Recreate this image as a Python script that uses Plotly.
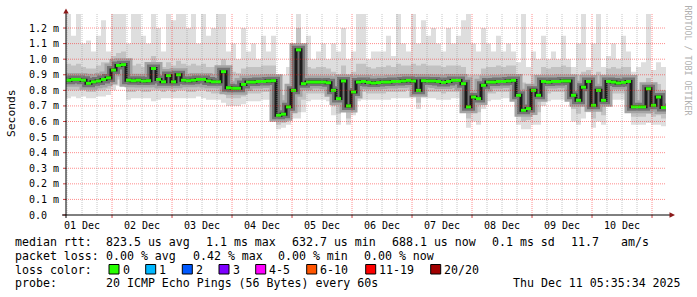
import numpy as np
import pandas as pd
import plotly.graph_objects as go

# ---------------- data (milliseconds, one value per 2-hour step) ----------------
start_time = "2025-12-01 05:35:34"
step_hours = 2

median_ms = [
    0.865, 0.870, 0.870, 0.865, 0.845, 0.855, 0.860, 0.870, 0.880, 0.930,
    0.960, 0.965, 0.865, 0.862, 0.865, 0.860, 0.862, 0.940, 0.870, 0.855,
    0.895, 0.855, 0.900, 0.865, 0.862, 0.865, 0.870, 0.870, 0.860, 0.855,
    0.855, 0.920, 0.817, 0.813, 0.813, 0.838, 0.853, 0.853, 0.857, 0.857,
    0.860, 0.862, 0.640, 0.647, 0.694, 0.800, 1.060, 0.843, 0.853, 0.853,
    0.853, 0.853, 0.849, 0.800, 0.747, 0.860, 0.700, 0.790, 0.853, 0.857,
    0.851, 0.847, 0.850, 0.853, 0.853, 0.857, 0.857, 0.860, 0.864, 0.860,
    0.800, 0.862, 0.860, 0.860, 0.857, 0.851, 0.857, 0.864, 0.864, 0.843,
    0.694, 0.757, 0.747, 0.832, 0.853, 0.853, 0.857, 0.857, 0.860, 0.864,
    0.768, 0.672, 0.683, 0.800, 0.768, 0.857, 0.853, 0.857, 0.857, 0.860,
    0.860, 0.768, 0.736, 0.820, 0.857, 0.704, 0.800, 0.736, 0.857, 0.853,
    0.847, 0.851, 0.857, 0.694, 0.694, 0.694, 0.810, 0.704, 0.757, 0.690,
    0.683,
]
smoke_max_ms = [
    1.29, 1.15, 1.29, 1.10, 1.12, 1.05, 1.15, 1.25, 1.05, 1.29,
    1.29, 1.29, 1.10, 1.29, 1.29, 1.15, 1.10, 1.29, 1.20, 1.05,
    1.29, 1.25, 1.29, 1.29, 1.20, 1.29, 1.10, 1.29, 1.15, 1.20,
    1.29, 1.29, 1.05, 1.10, 1.00, 1.20, 1.05, 1.10, 1.00, 1.15,
    1.05, 1.15, 0.88, 0.90, 0.95, 1.00, 1.29, 1.05, 1.15, 1.00,
    1.05, 1.10, 1.00, 1.10, 1.05, 1.20, 1.00, 1.05, 1.29, 1.29,
    1.00, 1.05, 1.05, 1.05, 1.15, 1.02, 1.29, 1.10, 1.05, 1.29,
    1.10, 1.25, 1.15, 1.20, 1.10, 1.05, 1.20, 1.10, 1.15, 1.25,
    1.29, 1.10, 1.05, 1.20, 1.10, 1.05, 1.15, 1.05, 1.10, 1.05,
    0.98, 1.29, 0.95, 1.05, 1.00, 1.15, 1.00, 1.05, 1.00, 1.15,
    1.00, 0.95, 1.10, 1.29, 0.95, 1.10, 1.29, 0.95, 1.02, 1.10,
    1.00, 1.15, 1.05, 0.92, 0.95, 0.98, 1.29, 0.93, 0.98, 0.95,
    0.95,
]
smoke_hi_ms = [
    0.97, 0.96, 0.97, 0.95, 0.94, 0.94, 0.96, 0.98, 0.98, 1.02,
    1.04, 1.05, 0.96, 0.96, 0.97, 0.95, 0.95, 1.02, 0.97, 0.95,
    0.98, 0.96, 0.99, 0.97, 0.96, 0.97, 0.96, 0.97, 0.95, 0.95,
    0.95, 1.00, 0.92, 0.92, 0.91, 0.94, 0.95, 0.95, 0.95, 0.96,
    0.96, 0.96, 0.76, 0.77, 0.82, 0.90, 1.20, 0.94, 0.95, 0.94,
    0.95, 0.95, 0.94, 0.92, 0.90, 0.96, 0.90, 0.92, 0.97, 0.97,
    0.95, 0.94, 0.95, 0.95, 0.96, 0.95, 0.97, 0.96, 0.96, 0.97,
    0.96, 0.97, 0.96, 0.96, 0.96, 0.95, 0.96, 0.96, 0.96, 0.95,
    0.90, 0.90, 0.90, 0.94, 0.95, 0.95, 0.96, 0.95, 0.96, 0.96,
    0.90, 0.85, 0.82, 0.90, 0.90, 0.95, 0.94, 0.95, 0.95, 0.96,
    0.95, 0.90, 0.90, 0.92, 0.93, 0.88, 0.92, 0.90, 0.94, 0.95,
    0.94, 0.95, 0.95, 0.80, 0.80, 0.80, 0.88, 0.80, 0.84, 0.80,
    0.80,
]
smoke_lo_ms = [
    0.80, 0.80, 0.80, 0.80, 0.79, 0.79, 0.80, 0.80, 0.81, 0.84,
    0.87, 0.88, 0.79, 0.79, 0.80, 0.79, 0.79, 0.80, 0.80, 0.79,
    0.80, 0.79, 0.80, 0.80, 0.79, 0.79, 0.80, 0.80, 0.79, 0.78,
    0.78, 0.78, 0.75, 0.75, 0.75, 0.76, 0.78, 0.78, 0.78, 0.79,
    0.79, 0.79, 0.58, 0.59, 0.62, 0.70, 0.66, 0.74, 0.78, 0.78,
    0.78, 0.78, 0.77, 0.70, 0.65, 0.76, 0.62, 0.70, 0.78, 0.79,
    0.78, 0.78, 0.78, 0.78, 0.79, 0.79, 0.79, 0.79, 0.80, 0.80,
    0.72, 0.79, 0.79, 0.79, 0.79, 0.78, 0.79, 0.79, 0.79, 0.76,
    0.62, 0.66, 0.66, 0.74, 0.78, 0.78, 0.79, 0.79, 0.79, 0.80,
    0.66, 0.60, 0.61, 0.66, 0.66, 0.77, 0.78, 0.79, 0.79, 0.79,
    0.79, 0.68, 0.65, 0.70, 0.74, 0.62, 0.68, 0.64, 0.78, 0.78,
    0.78, 0.78, 0.79, 0.63, 0.63, 0.63, 0.65, 0.63, 0.64, 0.62,
    0.62,
]
smoke_min_ms = [
    0.75, 0.76, 0.75, 0.76, 0.75, 0.75, 0.76, 0.76, 0.77, 0.80,
    0.83, 0.84, 0.74, 0.75, 0.75, 0.75, 0.75, 0.73, 0.74, 0.75,
    0.75, 0.75, 0.75, 0.75, 0.75, 0.75, 0.76, 0.75, 0.74, 0.74,
    0.74, 0.72, 0.70, 0.70, 0.70, 0.71, 0.73, 0.73, 0.73, 0.74,
    0.74, 0.74, 0.55, 0.56, 0.58, 0.62, 0.62, 0.66, 0.73, 0.74,
    0.74, 0.74, 0.73, 0.64, 0.58, 0.70, 0.58, 0.64, 0.73, 0.74,
    0.74, 0.74, 0.74, 0.74, 0.74, 0.75, 0.75, 0.75, 0.75, 0.75,
    0.68, 0.75, 0.75, 0.75, 0.74, 0.74, 0.74, 0.75, 0.75, 0.70,
    0.56, 0.60, 0.58, 0.68, 0.73, 0.74, 0.74, 0.75, 0.75, 0.75,
    0.58, 0.55, 0.55, 0.58, 0.58, 0.70, 0.73, 0.74, 0.74, 0.74,
    0.74, 0.60, 0.58, 0.62, 0.66, 0.56, 0.60, 0.58, 0.72, 0.74,
    0.74, 0.74, 0.74, 0.58, 0.58, 0.58, 0.59, 0.58, 0.58, 0.57,
    0.57,
]

y_tick_values = [0.0, 0.1, 0.2, 0.3, 0.4, 0.5, 0.6, 0.7, 0.8, 0.9, 1.0, 1.1, 1.2]
y_tick_labels = ["0.0\u00a0\u00a0", "0.1 m", "0.2 m", "0.3 m", "0.4 m", "0.5 m", "0.6 m",
                 "0.7 m", "0.8 m", "0.9 m", "1.0 m", "1.1 m", "1.2 m"]
day_labels = ["01 Dec", "02 Dec", "03 Dec", "04 Dec", "05 Dec",
              "06 Dec", "07 Dec", "08 Dec", "09 Dec", "10 Dec"]

legend_rtt = [("median rtt:", 16), ("823.5 us avg", 107.3), ("1.1 ms max", 207.3),
              ("632.7 us min", 293.3), ("688.1 us now", 393.3), ("0.1 ms sd", 493.3),
              ("11.7", 571.7), ("am/s", 621.7)]
legend_loss = [("packet loss:", 16), ("0.00 % avg", 107.3), ("0.42 % max", 194),
               ("0.00 % min", 279), ("0.00 % now", 365)]
loss_labels = ["0", "1", "2", "3", "4-5", "6-10", "11-19", "20/20"]
loss_colors = ["#26ff00", "#00b8ff", "#0059ff", "#7e00ff", "#ff00fe", "#ff5500", "#ff0000", "#a10000"]
loss_box_x = [109, 145.7, 182.3, 219, 255.7, 306.7, 365.7, 430.7]
probe_text = "20 ICMP Echo Pings (56 Bytes) every 60s"
stamp_text = "Thu Dec 11 05:35:34 2025"

# ---------------- geometry ----------------
W, H = 697, 297
L, R, T, B = 66, 31, 14, 82
PW, PH = W - L - R, H - T - B
Y_MAX = 1.29
MONO = "DejaVu Sans Mono"


def px(xp):
    return (xp - L) / PW


def py(yp):
    return (H - B - yp) / PH


t0 = pd.Timestamp(start_time)
times = t0 + pd.to_timedelta(np.arange(len(median_ms)) * step_hours, unit="h")
t_end = times[-1]

fig = go.Figure()


def band(lo, hi, color):
    fig.add_trace(go.Scatter(x=times, y=lo, mode="lines", line=dict(width=0, shape="hv"),
                             hoverinfo="skip", showlegend=False))
    fig.add_trace(go.Scatter(x=times, y=hi, mode="lines", line=dict(width=0, shape="hv"),
                             fill="tonexty", fillcolor=color, hoverinfo="skip", showlegend=False))


band(smoke_min_ms, smoke_max_ms, "#dedede")
band(smoke_lo_ms, smoke_hi_ms, "#c2c2c2")

# dark smoke core around the median
for w, c in [(13, "#a4a4a4"), (8, "#737373"), (3, "#1c1c1c")]:
    fig.add_trace(go.Scatter(x=times, y=median_ms, mode="lines",
                             line=dict(width=w, color=c, shape="hv"),
                             hoverinfo="skip", showlegend=False))

# median drawn as per-step segments (no vertical connectors)
gx, gy = [], []
for i in range(len(median_ms) - 1):
    gx += [times[i], times[i + 1], None]
    gy += [median_ms[i], median_ms[i], None]
fig.add_trace(go.Scatter(x=gx, y=gy, mode="lines", line=dict(width=3, color="#26ff00"),
                         connectgaps=False, hoverinfo="skip", showlegend=False))

shapes = []
grid_red = "rgba(255,0,0,0.45)"
grid_grey = "rgba(150,150,150,0.55)"
# horizontal grid
for v in y_tick_values[1:]:
    shapes.append(dict(type="line", xref="paper", yref="y", x0=0, x1=1, y0=v, y1=v,
                       line=dict(color=grid_red, width=1, dash="1px,1px"), layer="above"))
# vertical grid: 6-hour minor, midnight major
t = pd.Timestamp("2025-12-01 06:00:00")
while t < t_end:
    major = (t.hour == 0)
    shapes.append(dict(type="line", xref="x", yref="paper", x0=t, x1=t, y0=0, y1=1,
                       line=dict(color=grid_red if major else grid_grey, width=1, dash="1px,1px"),
                       layer="above"))
    if major:
        shapes.append(dict(type="line", xref="x", yref="paper", x0=t, x1=t,
                           y0=py(215), y1=py(218), line=dict(color="#d04040", width=1), layer="above"))
    t += pd.Timedelta(hours=6)
# y tick marks
for v in y_tick_values:
    yy = v / Y_MAX
    shapes.append(dict(type="line", xref="paper", yref="paper", x0=px(63), x1=px(66), y0=yy, y1=yy,
                       line=dict(color="#d04040", width=1), layer="above"))
# axes
shapes.append(dict(type="line", xref="paper", yref="paper", x0=px(66), x1=px(66),
                   y0=py(218), y1=py(12), line=dict(color="#000000", width=1), layer="above"))
shapes.append(dict(type="line", xref="paper", yref="paper", x0=px(62), x1=px(670),
                   y0=py(215), y1=py(215), line=dict(color="#000000", width=1), layer="above"))
arrow_col = "#8b1a1a"
shapes.append(dict(type="path", xref="paper", yref="paper",
                   path=f"M {px(66)} {py(8.5)} L {px(63.3)} {py(13.5)} L {px(68.7)} {py(13.5)} Z",
                   fillcolor=arrow_col, line=dict(width=0), layer="above"))
shapes.append(dict(type="path", xref="paper", yref="paper",
                   path=f"M {px(675)} {py(215)} L {px(669.5)} {py(212.3)} L {px(669.5)} {py(217.7)} Z",
                   fillcolor=arrow_col, line=dict(width=0), layer="above"))
# loss colour boxes
for bx, c in zip(loss_box_x, loss_colors):
    shapes.append(dict(type="rect", xref="paper", yref="paper",
                       x0=px(bx), x1=px(bx + 10), y0=py(274), y1=py(264.5),
                       fillcolor=c, line=dict(color="#000000", width=1), layer="above"))

annotations = []


def txt(s, xp, yp, size=11.6, anchor="left", color="#000000", angle=0):
    annotations.append(dict(text=s, xref="paper", yref="paper", x=px(xp), y=py(yp),
                            xanchor=anchor, yanchor="middle", showarrow=False,
                            font=dict(family=MONO, size=size, color=color),
                            textangle=angle, borderpad=0, borderwidth=0))


for s, xp in legend_rtt:
    txt(s, xp - 1, 241.5)
for s, xp in legend_loss:
    txt(s, xp - 1, 255.5)
txt("loss color:", 15, 269.5)
for bx, lab in zip(loss_box_x, loss_labels):
    txt(lab, bx + 13.5, 269.5)
txt("probe:", 15, 283.3)
txt(probe_text, 106.3, 283.3)
txt(stamp_text, 681, 283.3, anchor="right")
txt("Seconds", 11.5, 113.5, size=11.3, anchor="center", angle=-90)
txt("RRDTOOL / TOBI OETIKER", 687.5, 60, size=8.3, anchor="center", color="#b0b0b0", angle=90)

noon_ticks = [pd.Timestamp("2025-12-01 12:00:00") + pd.Timedelta(days=k) for k in range(len(day_labels))]

fig.update_layout(
    width=W, height=H,
    margin=dict(l=L, r=R, t=T, b=B, pad=0),
    paper_bgcolor="#ffffff", plot_bgcolor="#ffffff",
    showlegend=False,
    shapes=shapes, annotations=annotations,
    xaxis=dict(type="date", range=[t0, t_end], tickvals=noon_ticks, ticktext=day_labels,
               ticks="", showgrid=False, zeroline=False, showline=False,
               tickfont=dict(family=MONO, size=10, color="#000000"), ticklabelstandoff=3,
               fixedrange=True),
    yaxis=dict(range=[0, Y_MAX], tickvals=y_tick_values, ticktext=y_tick_labels,
               ticks="", showgrid=False, zeroline=False, showline=False,
               tickfont=dict(family=MONO, size=10, color="#000000"), ticklabelstandoff=6,
               fixedrange=True),
)

fig.write_html("out.html")
